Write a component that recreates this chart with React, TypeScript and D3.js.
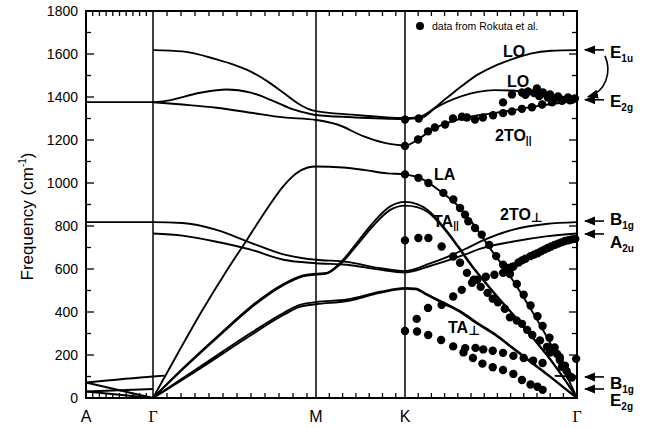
import React from 'react';
import * as d3 from 'd3';

// path through the Brillouin zone: A - Γ - M - K - Γ  (k = 0..4)
const kPoints = [0, 1, 2, 3, 4];
const kLabels = ['A', 'Γ', 'M', 'K', 'Γ'];
const yTicks = d3.range(0, 1801, 100);

// calculated branches [k, frequency cm-1]
const loUpper = [[1, 1618], [1.18, 1612], [1.39, 1575], [1.49, 1552], [1.6, 1518], [1.7, 1474], [1.8, 1420], [1.9, 1365], [1.96, 1342], [2, 1334], [2.4, 1318], [3, 1302], [3.08, 1306], [3.135, 1328], [3.233, 1389], [3.33, 1451], [3.425, 1505], [3.52, 1544], [3.62, 1575], [3.73, 1602], [3.85, 1615], [4, 1618]];
const loLower = [[0, 1376], [1, 1376], [1.08, 1382], [1.29, 1420], [1.45, 1435], [1.6, 1420], [1.74, 1381], [1.86, 1342], [1.96, 1322], [2, 1316], [2.4, 1306], [3, 1298], [3.1, 1304], [3.17, 1345], [3.33, 1404], [3.425, 1424], [3.52, 1432], [3.62, 1430], [3.72, 1420], [3.81, 1404], [3.91, 1392], [4, 1385]];
const toPar = [[1, 1376], [1.18, 1365], [1.39, 1350], [1.6, 1327], [1.8, 1305], [2, 1293], [2.24, 1272], [2.53, 1218], [2.76, 1188], [3, 1175], [3.08, 1205], [3.15, 1245], [3.23, 1275], [3.33, 1300], [3.45, 1318], [3.6, 1335], [3.75, 1355], [3.9, 1372], [4, 1382]];
const laBranch = [[1, 0], [1.15, 205], [1.3, 405], [1.45, 590], [1.58, 740], [1.7, 880], [1.8, 985], [1.88, 1045], [1.95, 1072], [2, 1077], [2.3, 1072], [2.55, 1060], [2.8, 1045], [3, 1040], [3.1, 1018], [3.2, 965], [3.3, 900], [3.4, 805], [3.5, 690], [3.6, 580], [3.7, 455], [3.8, 320], [3.9, 170], [4, 0]];
const taPar1 = [[1, 0], [1.2, 150], [1.4, 290], [1.6, 425], [1.8, 530], [1.92, 570], [2, 578], [2.12, 582], [2.27, 628], [2.46, 722], [2.64, 815], [2.83, 890], [3, 912], [3.07, 902], [3.13, 876], [3.23, 790], [3.31, 705], [3.39, 615], [3.45, 555], [3.55, 460], [3.65, 370], [3.75, 275], [3.85, 175], [3.93, 85], [4, 0]];
const taPar2 = [[1, 0], [1.2, 146], [1.4, 285], [1.6, 419], [1.8, 525], [1.92, 566], [2, 574], [2.12, 579], [2.27, 621], [2.46, 711], [2.64, 800], [2.83, 874], [3, 895], [3.07, 888], [3.13, 866], [3.23, 784], [3.31, 700], [3.39, 611], [3.45, 552], [3.55, 457], [3.65, 367], [3.75, 272], [3.85, 173], [3.93, 84], [4, 0]];
const taPerp1 = [[1, 0], [1.29, 146], [1.6, 302], [1.8, 395], [1.9, 433], [2, 446], [2.35, 458], [2.72, 494], [3, 512], [3.06, 510], [3.13, 482], [3.23, 442], [3.33, 400], [3.42, 350], [3.52, 300], [3.63, 232], [3.74, 165], [3.85, 97], [3.93, 45], [4, 0]];
const taPerp2 = [[1, 0], [1.29, 138], [1.6, 292], [1.8, 386], [1.9, 424], [2, 436], [2.35, 451], [2.72, 489], [3, 508], [3.06, 506], [3.13, 478], [3.23, 437], [3.33, 395], [3.42, 345], [3.52, 295], [3.63, 228], [3.74, 161], [3.85, 94], [3.93, 43], [4, 0]];
const toPerpUpper = [[0, 818], [1, 818], [1.18, 814], [1.39, 782], [1.6, 722], [1.8, 668], [1.92, 650], [2, 643], [2.35, 633], [2.7, 605], [3, 590], [3.15, 627], [3.25, 658], [3.35, 693], [3.44, 728], [3.63, 783], [3.82, 809], [4, 818]];
const toPerpLower = [[1, 765], [1.18, 755], [1.39, 727], [1.6, 690], [1.8, 643], [2, 627], [2.35, 620], [2.7, 598], [3, 584], [3.15, 615], [3.25, 640], [3.35, 668], [3.44, 695], [3.63, 728], [3.82, 752], [4, 765]];
const zoAG = [[0, 72], [1, 100], [1.07, 104]];
const laAG = [[0, 72], [1, 0]];
const taAG = [[0, 30], [1, 0]];
const shearAG = [[0, 30], [1, 42]];
const zoKG = [[3.87, 103], [4, 100]];

// Rokuta et al. measured points [k, frequency]
const rokutaK = [[3, 1295], [3, 1172], [3, 1040], [3, 733], [3, 312]];
const rokutaLO = [[3.08, 1300], [3.57, 1375], [3.622, 1412], [3.68, 1421], [3.7, 1410], [3.715, 1426], [3.75, 1418], [3.767, 1440], [3.78, 1405], [3.802, 1421], [3.83, 1398], [3.843, 1412], [3.87, 1392], [3.89, 1403], [3.91, 1388], [3.948, 1398], [3.96, 1385], [3.988, 1393]];
const rokutaTO = [[3.076, 1202], [3.134, 1240], [3.174, 1258], [3.233, 1272], [3.279, 1300], [3.331, 1308], [3.36, 1305], [3.407, 1295], [3.453, 1305], [3.512, 1315], [3.57, 1325], [3.622, 1333], [3.68, 1345], [3.738, 1352], [3.797, 1365], [3.855, 1375], [3.913, 1382], [3.971, 1387]];
const rokutaLA = [[3.078, 1024], [3.136, 1000], [3.223, 954], [3.281, 923], [3.32, 884], [3.349, 853], [3.368, 822], [3.407, 791], [3.446, 760], [3.49, 712], [3.53, 660], [3.57, 620], [3.61, 577], [3.65, 530], [3.69, 480], [3.73, 430], [3.77, 380], [3.8, 335], [3.84, 280], [3.87, 235], [3.9, 190], [3.93, 150], [3.96, 100]];
const rokutaTAPar = [[3.078, 744], [3.136, 744], [3.213, 705], [3.28, 658], [3.32, 629], [3.36, 582], [3.4, 550], [3.44, 517], [3.48, 489], [3.51, 462], [3.54, 445], [3.58, 415], [3.61, 375], [3.65, 360], [3.68, 345], [3.71, 317], [3.74, 293], [3.785, 268], [3.826, 238], [3.843, 212], [3.884, 205], [3.9, 177], [3.913, 145], [3.94, 125], [3.97, 95], [3.995, 182]];
const rokutaZO = [[3.068, 368], [3.134, 419], [3.213, 433], [3.28, 472], [3.33, 503], [3.39, 536], [3.42, 550], [3.47, 564], [3.52, 573], [3.57, 582], [3.6, 605], [3.62, 608], [3.63, 612], [3.66, 630], [3.68, 640], [3.7, 648], [3.73, 660], [3.75, 667], [3.77, 673], [3.79, 682], [3.81, 690], [3.83, 698], [3.85, 705], [3.87, 712], [3.89, 718], [3.91, 724], [3.93, 730], [3.95, 734], [3.97, 738], [3.99, 740]];
const rokutaPerpA = [[3.07, 309], [3.135, 293], [3.21, 270], [3.28, 240], [3.35, 232], [3.41, 233], [3.455, 226], [3.51, 220], [3.57, 210], [3.63, 196], [3.69, 186], [3.745, 174], [3.8, 163]];
const rokutaPerpB = [[3.34, 212], [3.395, 186], [3.45, 160], [3.51, 143], [3.57, 130], [3.63, 112], [3.68, 84], [3.73, 63], [3.77, 52], [3.8, 38]];

// Γ-point mode assignments on the right
const gammaModes = [
  { main: 'E', sub: '1u', freq: 1619, dy: 8 },
  { main: 'E', sub: '2g', freq: 1387, dy: 7 },
  { main: 'B', sub: '1g', freq: 823, dy: 4 },
  { main: 'A', sub: '2u', freq: 763, dy: 14 },
  { main: 'B', sub: '1g', freq: 98, dy: 12 },
  { main: 'E', sub: '2g', freq: 42, dy: 17 },
];

const W = 652;
const H = 428;
const SANS = '"Liberation Sans", Arial, Helvetica, sans-serif';

export default function App() {
  const x = d3.scaleLinear().domain(kPoints).range([86, 153, 316, 405, 577]);
  const y = d3.scaleLinear().domain([0, 1800]).range([398, 11]);

  const line = d3.line<number[]>()
    .x(d => x(d[0]))
    .y(d => y(d[1]))
    .curve(d3.curveMonotoneX);

  const branches = [loUpper, loLower, toPar, laBranch, taPar1, taPar2, taPerp1, taPerp2,
    toPerpUpper, toPerpLower, zoAG, laAG, taAG, shearAG, zoKG];
  const dots = [...rokutaK, ...rokutaLO, ...rokutaTO, ...rokutaLA, ...rokutaTAPar,
    ...rokutaZO, ...rokutaPerpA, ...rokutaPerpB];

  // minor ticks along k axis, per segment
  const kSteps = [6.7, 14, 13.3, 13.2];
  const kTicks: number[] = [];
  for (let s = 0; s < 4; s++) {
    const x0 = x(kPoints[s]);
    const x1 = x(kPoints[s + 1]);
    for (let p = x0 + kSteps[s]; p < x1 - 3; p += kSteps[s]) kTicks.push(p);
  }

  const left = x(0), right = x(4), top = y(1800), bottom = y(0);

  return (
    <svg width={W} height={H} style={{ position: 'absolute', left: 0, top: 0, background: '#fff' }}
      fontFamily={SANS}>
      <defs>
        <marker id="ah" viewBox="0 0 10 10" refX="9" refY="5" markerWidth="7" markerHeight="7" orient="auto-start-reverse">
          <path d="M0,1 L10,5 L0,9 z" fill="#000" />
        </marker>
      </defs>

      {/* y ticks */}
      {yTicks.map(t => {
        const len = t % 200 === 0 ? 8 : 5;
        return (
          <g key={'y' + t}>
            <line x1={left} x2={left + len} y1={y(t)} y2={y(t)} stroke="#000" strokeWidth={1.3} />
            <line x1={right} x2={right - len} y1={y(t)} y2={y(t)} stroke="#000" strokeWidth={1.3} />
          </g>
        );
      })}
      {yTicks.filter(t => t % 200 === 0).map(t => (
        <text key={'yl' + t} x={left - 8} y={y(t) + 5} textAnchor="end" fontSize={14}>{t}</text>
      ))}

      {/* k ticks */}
      {kTicks.map((p, i) => (
        <g key={'k' + i}>
          <line x1={p} x2={p} y1={top} y2={top + 5} stroke="#000" strokeWidth={1.3} />
          <line x1={p} x2={p} y1={bottom} y2={bottom - 5} stroke="#000" strokeWidth={1.3} />
        </g>
      ))}

      {/* symmetry point verticals */}
      {kPoints.slice(1, 4).map(k => (
        <line key={'v' + k} x1={x(k)} x2={x(k)} y1={top} y2={bottom} stroke="#000" strokeWidth={1.5} />
      ))}

      {/* branches */}
      {branches.map((b, i) => (
        <path key={'b' + i} d={line(b) || ''} fill="none" stroke="#000" strokeWidth={1.9} />
      ))}

      {/* measured points */}
      {dots.map((d, i) => (
        <circle key={'d' + i} cx={x(d[0])} cy={y(d[1])} r={4.2} fill="#000" />
      ))}

      {/* frame */}
      <rect x={left} y={top} width={right - left} height={bottom - top} fill="none" stroke="#000" strokeWidth={2} />

      {/* legend */}
      <circle cx={420} cy={26} r={4} fill="#000" />
      <text x={432} y={30} fontSize={10.5}>data from Rokuta et al.</text>

      {/* branch labels */}
      <g fontWeight="bold" fontSize={16}>
        <text x={503} y={57}>LO</text>
        <text x={507} y={87}>LO</text>
        <text x={495} y={141}>2TO<tspan fontSize={10} dy={3}>||</tspan></text>
        <text x={434} y={180}>LA</text>
        <text x={433} y={227}>TA<tspan fontSize={10} dy={2}>||</tspan></text>
        <text x={500} y={220}>2TO<tspan fontSize={13} dy={2} fontFamily="DejaVu Sans">⊥</tspan></text>
        <text x={448} y={333}>TA<tspan fontSize={13} dy={2} fontFamily="DejaVu Sans">⊥</tspan></text>
      </g>

      {/* Γ mode assignments */}
      {gammaModes.map((m, i) => {
        const yy = y(m.freq);
        return (
          <g key={'m' + i}>
            <line x1={604} x2={585} y1={yy} y2={yy} stroke="#000" strokeWidth={1.6} markerEnd="url(#ah)" />
            <text x={610} y={yy + m.dy} fontWeight="bold" fontSize={17}>
              {m.main}<tspan fontSize={10} dy={4}>{m.sub}</tspan>
            </text>
          </g>
        );
      })}
      <path d={`M605,${y(1619) + 6} C612,${y(1619) + 22} 606,${y(1387) - 8} 588,${y(1387) - 3}`}
        fill="none" stroke="#000" strokeWidth={1.6} markerEnd="url(#ah)" />

      {/* axis labels */}
      {kPoints.map((k, i) => (
        <text key={'kl' + i} x={x(k)} y={422} textAnchor="middle" fontSize={16}
          fontFamily={kLabels[i] === 'Γ' ? '"Liberation Serif", "Times New Roman", serif' : SANS}>
          {kLabels[i]}
        </text>
      ))}
      <text transform={`translate(33,${(top + bottom) / 2 + 12}) rotate(-90)`} textAnchor="middle" fontSize={17}>
        Frequency (cm<tspan fontSize={10} dy={-7}>-1</tspan><tspan dy={7}>)</tspan>
      </text>
    </svg>
  );
}
